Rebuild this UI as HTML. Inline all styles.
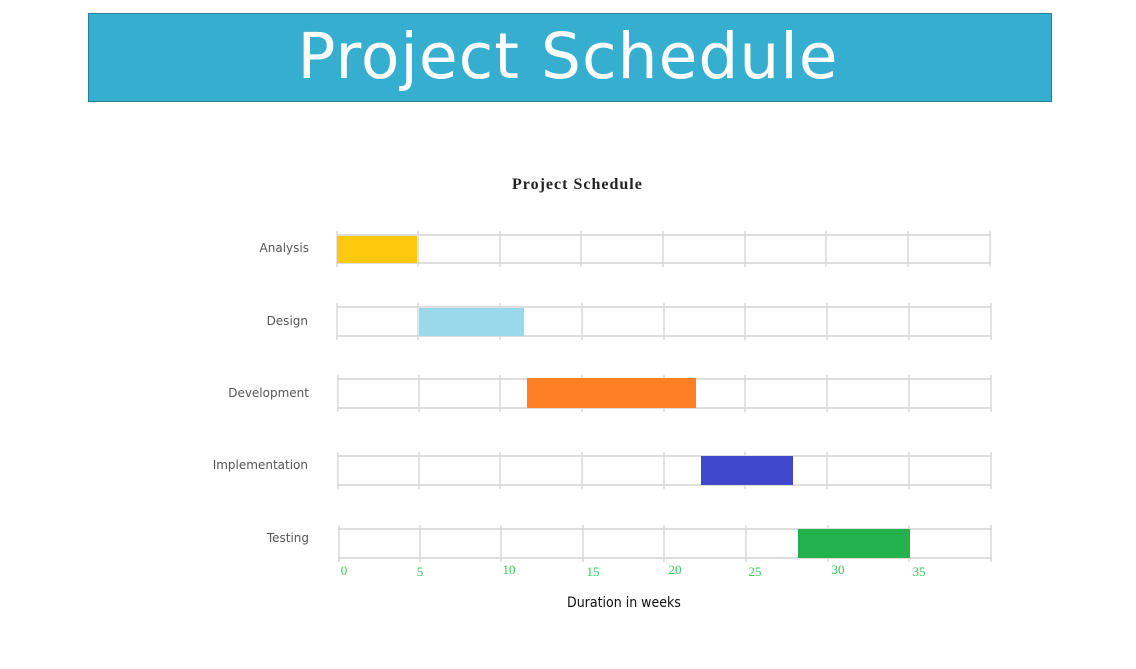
<!DOCTYPE html>
<html><head><meta charset="utf-8"><style>
body{margin:0;width:1136px;height:669px;background:#fff;position:relative;overflow:hidden;font-family:"DejaVu Sans","Liberation Sans",sans-serif}
.hdr{position:absolute;left:88px;top:13px;width:962px;height:87px;background:#36aecf;border:1px solid #2a7f96;color:#fff;text-align:center;font-size:63px;line-height:86px;letter-spacing:1px}
.t{position:absolute;font-size:12px;color:#555}
</style></head><body>
<div class="hdr"><span style="position:relative;left:-2px">Project Schedule</span></div>
<div style="position:absolute;left:512px;top:176px;font:bold 16px 'Liberation Serif',serif;letter-spacing:1px;color:#222">Project Schedule</div>
<svg width="1136" height="669" style="position:absolute;left:0;top:0">
<g stroke="#d4d4d4" stroke-width="1.5">
<line x1="337" y1="235" x2="991" y2="235"/><line x1="337" y1="263" x2="991" y2="263"/>
<line x1="337" y1="307" x2="991" y2="307"/><line x1="337" y1="336" x2="991" y2="336"/>
<line x1="337" y1="379" x2="991" y2="379"/><line x1="337" y1="408" x2="991" y2="408"/>
<line x1="337" y1="456" x2="991" y2="456"/><line x1="337" y1="485" x2="991" y2="485"/>
<line x1="338" y1="529" x2="992" y2="529"/><line x1="338" y1="558" x2="992" y2="558"/>
</g>
<g stroke="#d4d4d4" stroke-width="1.3">
<path d="M337 231V267M418 231V267M500 231V267M581 231V267M663 231V267M745 231V267M826 231V267M908 231V267M990 231V267"/>
<path d="M337 303V340M418 303V340M500 303V340M582 303V340M664 303V340M745 303V340M827 303V340M909 303V340M991 303V340"/>
<path d="M338 375V412M419 375V412M500 375V412M582 375V412M664 375V412M745 375V412M827 375V412M909 375V412M991 375V412"/>
<path d="M338 452V489M419 452V489M500 452V489M582 452V489M664 452V489M745 452V489M827 452V489M909 452V489M991 452V489"/>
<path d="M339 525V562M420 525V562M501 525V562M583 525V562M664 525V562M746 525V562M828 525V562M909 525V562M991 525V562"/>
</g>
<rect x="337" y="236" width="80" height="27" fill="#ffc90e"/>
<rect x="419" y="308" width="105" height="28" fill="#99d9ea"/>
<rect x="527" y="378" width="169" height="30" fill="#ff7f27"/>
<rect x="701" y="456" width="92" height="29" fill="#3f48cc"/>
<rect x="798" y="529" width="112" height="29" fill="#22b14c"/>
<g font-family="Liberation Serif,serif" font-size="13" fill="#33cc55" text-anchor="middle">
<text x="344" y="575">0</text><text x="420" y="576">5</text><text x="509" y="574">10</text><text x="593" y="576">15</text><text x="675" y="574">20</text><text x="755" y="576">25</text><text x="838" y="574">30</text><text x="919" y="576">35</text>
</g>
</svg>
<div class="t" style="right:827px;top:241px">Analysis</div>
<div class="t" style="right:828px;top:314px">Design</div>
<div class="t" style="right:827px;top:386px">Development</div>
<div class="t" style="right:828px;top:458px">Implementation</div>
<div class="t" style="right:827px;top:531px">Testing</div>
<div style="position:absolute;left:567px;top:595px;font-size:14px;color:#111;font-family:'DejaVu Sans Condensed','DejaVu Sans',sans-serif">Duration in weeks</div>
</body></html>
